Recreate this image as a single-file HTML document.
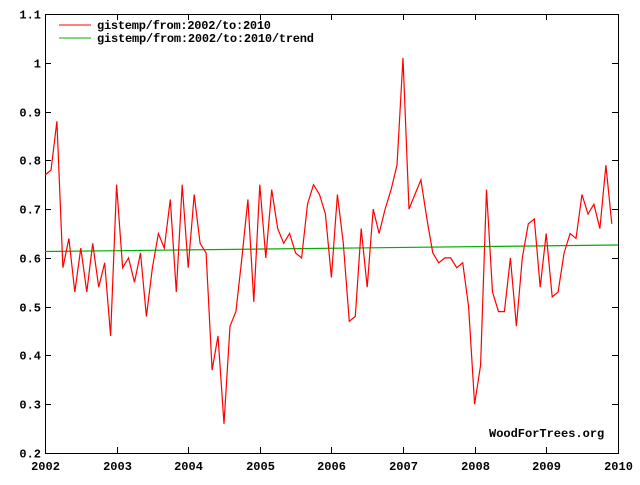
<!DOCTYPE html>
<html><head><meta charset="utf-8"><style>
html,body{margin:0;padding:0;background:#fff;}
svg text{font-family:"Liberation Mono","DejaVu Sans Mono",monospace;font-weight:bold;font-size:12px;fill:#000;}
</style></head><body>
<svg id="s" width="640" height="480" viewBox="0 0 640 480" xmlns="http://www.w3.org/2000/svg">
<rect width="640" height="480" fill="#fff"/>
<g id="ax" stroke="#000" stroke-width="1" fill="none" shape-rendering="crispEdges"></g>
<g id="lb"></g>
<line x1="45" y1="251.5" x2="618" y2="245" stroke="#00b000" stroke-width="1.2"/>
<polyline id="d" fill="none" stroke="#f00" stroke-width="1.2"/>
<line x1="59" y1="25" x2="91" y2="25" stroke="#f00"/>
<line x1="59" y1="38" x2="91" y2="38" stroke="#00b000"/>
<text x="97" y="29" textLength="217">gistemp/from:2002/to:2010</text>
<text x="97" y="42" textLength="217" style="" >gistemp/from:2002/to:2010/trend</text>
<text x="489" y="437">WoodForTrees.org</text>
</svg>
<script>
var v=[.77,.78,.88,.58,.64,.53,.62,.53,.63,.54,.59,.44,
.75,.58,.60,.55,.61,.48,.58,.65,.62,.72,.53,.75,
.58,.73,.63,.61,.37,.44,.26,.46,.49,.60,.72,.51,
.75,.60,.74,.66,.63,.65,.61,.60,.71,.75,.73,.69,
.56,.73,.63,.47,.48,.66,.54,.70,.65,.70,.74,.79,
1.01,.70,.73,.76,.68,.61,.59,.60,.60,.58,.59,.50,
.30,.38,.74,.53,.49,.49,.60,.46,.60,.67,.68,.54,
.65,.52,.53,.61,.65,.64,.73,.69,.71,.66,.79,.67];
document.querySelectorAll("text")[0].setAttribute("textLength","174");
document.querySelectorAll("text")[1].setAttribute("textLength","217");
function X(t){return 45+(t-2002)*71.6;}
function Y(val){return 14+(1.1-val)*487.8;}
var p=v.map(function(val,i){return X(2002+i/12).toFixed(1)+","+Y(val).toFixed(1);}).join(" ");
document.getElementById("d").setAttribute("points",p);
var ax=document.getElementById("ax"),lb=document.getElementById("lb"),h="",l="";
h+='<rect x="45.5" y="14.5" width="573" height="439"/>';
for(var k=2;k<=11;k++){var val=k/10,y=Math.round(Y(val))+.5;
h+='<line x1="45" y1="'+y+'" x2="51" y2="'+y+'"/><line x1="612" y1="'+y+'" x2="618" y2="'+y+'"/>';
var s=(k==10)?"1":(k==11?"1.1":val.toFixed(1));
l+='<text x="41" y="'+(y+4)+'" text-anchor="end">'+s+'</text>';}
for(var yr=2002;yr<=2010;yr++){var x=Math.round(X(yr))+.5;
h+='<line x1="'+x+'" y1="453" x2="'+x+'" y2="447"/><line x1="'+x+'" y1="14" x2="'+x+'" y2="20"/>';
l+='<text x="'+x+'" y="470" text-anchor="middle">'+yr+'</text>';}
ax.innerHTML=h;lb.innerHTML=l;
</script>
</body></html>
